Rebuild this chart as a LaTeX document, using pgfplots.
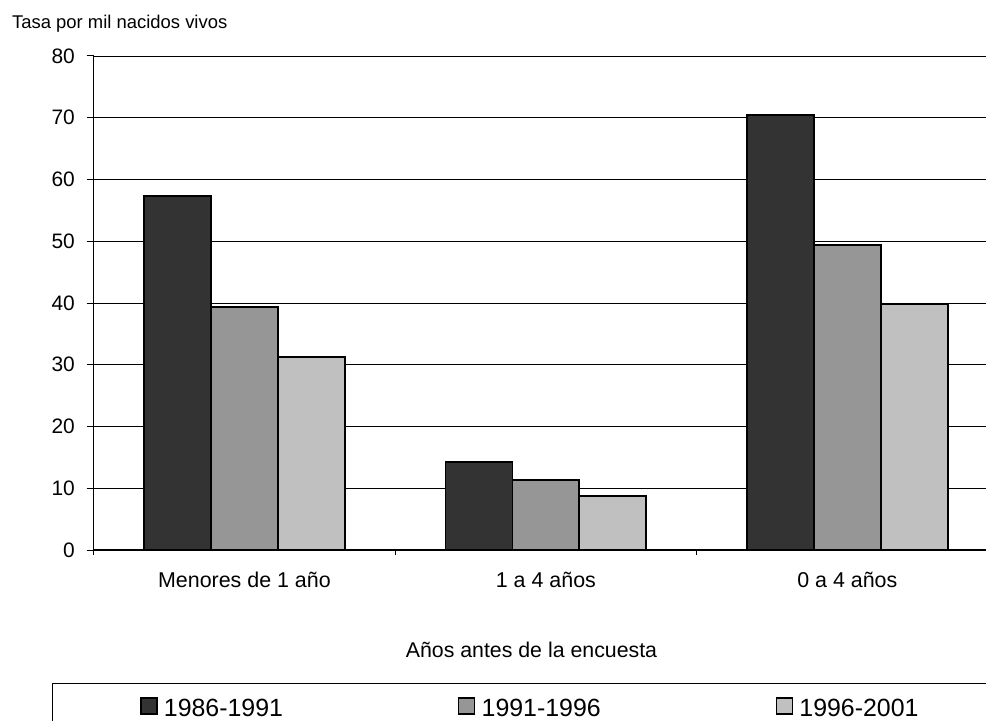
\documentclass[border=0pt]{standalone}
\usepackage{fontspec}
\setmainfont{Liberation Sans}
\usepackage{pgfplots}
\pgfplotsset{compat=1.18}
\definecolor{cA}{RGB}{51,51,51}
\definecolor{cB}{RGB}{150,150,150}
\definecolor{cC}{RGB}{192,192,192}
\begin{document}
\begin{tikzpicture}
\useasboundingbox (-93.7bp,-171bp) rectangle (892.3bp,550bp);
\clip (-93.7bp,-171bp) rectangle (892.3bp,550bp);
\begin{axis}[
  name=ax,
  at={(0,0)}, anchor=south west, scale only axis,
  width=892.3bp, height=494bp,
  xmin=-0.5, xmax=2.46, ymin=0, ymax=80,
  axis lines*=left,
  x axis line style={line width=2bp, black},
  y axis line style={line width=1bp, black},
  ytick={0,10,...,80},
  ymajorgrids, grid style={black, line width=0.9bp},
  xtick={0,1,2},
  xticklabels={Menores de 1 año, 1 a 4 años, 0 a 4 años},
  minor xtick={-0.5,0.5,1.5,2.5},
  tick align=outside, major tick length=7bp, minor tick length=5bp,
  tick style={black, line width=1bp},
  every major x tick/.append style={draw=none},
  xticklabel style={anchor=base, inner sep=0pt, yshift=-30bp, font=\fontsize{21.5}{25}\selectfont},
  yticklabel style={anchor=east, inner sep=0pt, xshift=-11.7bp, font=\fontsize{21}{24}\selectfont},
  /pgf/number format/assume math mode=true,
  xlabel={Años antes de la encuesta},
  xlabel style={at={(axis description cs:0.4906,-0.1856)}, anchor=north, inner sep=0pt, font=\fontsize{21.4}{25}\selectfont},
  ybar=0pt, bar width=0.222,
  legend columns=3,
  legend cell align=left,
  legend style={at={(axis description cs:-0.0471,-0.2686)}, anchor=north west,
    draw=black, line width=1bp, inner xsep=88bp, inner ysep=14bp, column sep=0pt,
    font=\fontsize{25}{30}\selectfont, nodes={inner sep=0pt}},
  legend image code/.code={\path[draw=none, fill=none] (0bp,0bp) -- (23bp,0bp);
    \draw[#1, line width=1.5bp] (0bp,-5bp) rectangle (16bp,11bp);},
]
\addplot[draw=black, line width=1.8bp, fill=cA, bar shift=-0.222] coordinates {(0,57.3) (1,14.3) (2,70.4)};
\addlegendentry{\makebox[294bp][l]{1986-1991}}
\addplot[draw=black, line width=1.8bp, fill=cB, bar shift=0] coordinates {(0,39.3) (1,11.3) (2,49.4)};
\addlegendentry{\makebox[294bp][l]{1991-1996}}
\addplot[draw=black, line width=1.8bp, fill=cC, bar shift=0.222] coordinates {(0,31.3) (1,8.7) (2,39.8)};
\addlegendentry{\makebox[294bp][l]{1996-2001}}
\end{axis}
\node[anchor=base west, inner sep=0pt, font=\fontsize{18.5}{22}\selectfont] at ([xshift=-81.7bp,yshift=521.7bp]ax.south west) {Tasa por mil nacidos vivos};
\end{tikzpicture}
\end{document}
